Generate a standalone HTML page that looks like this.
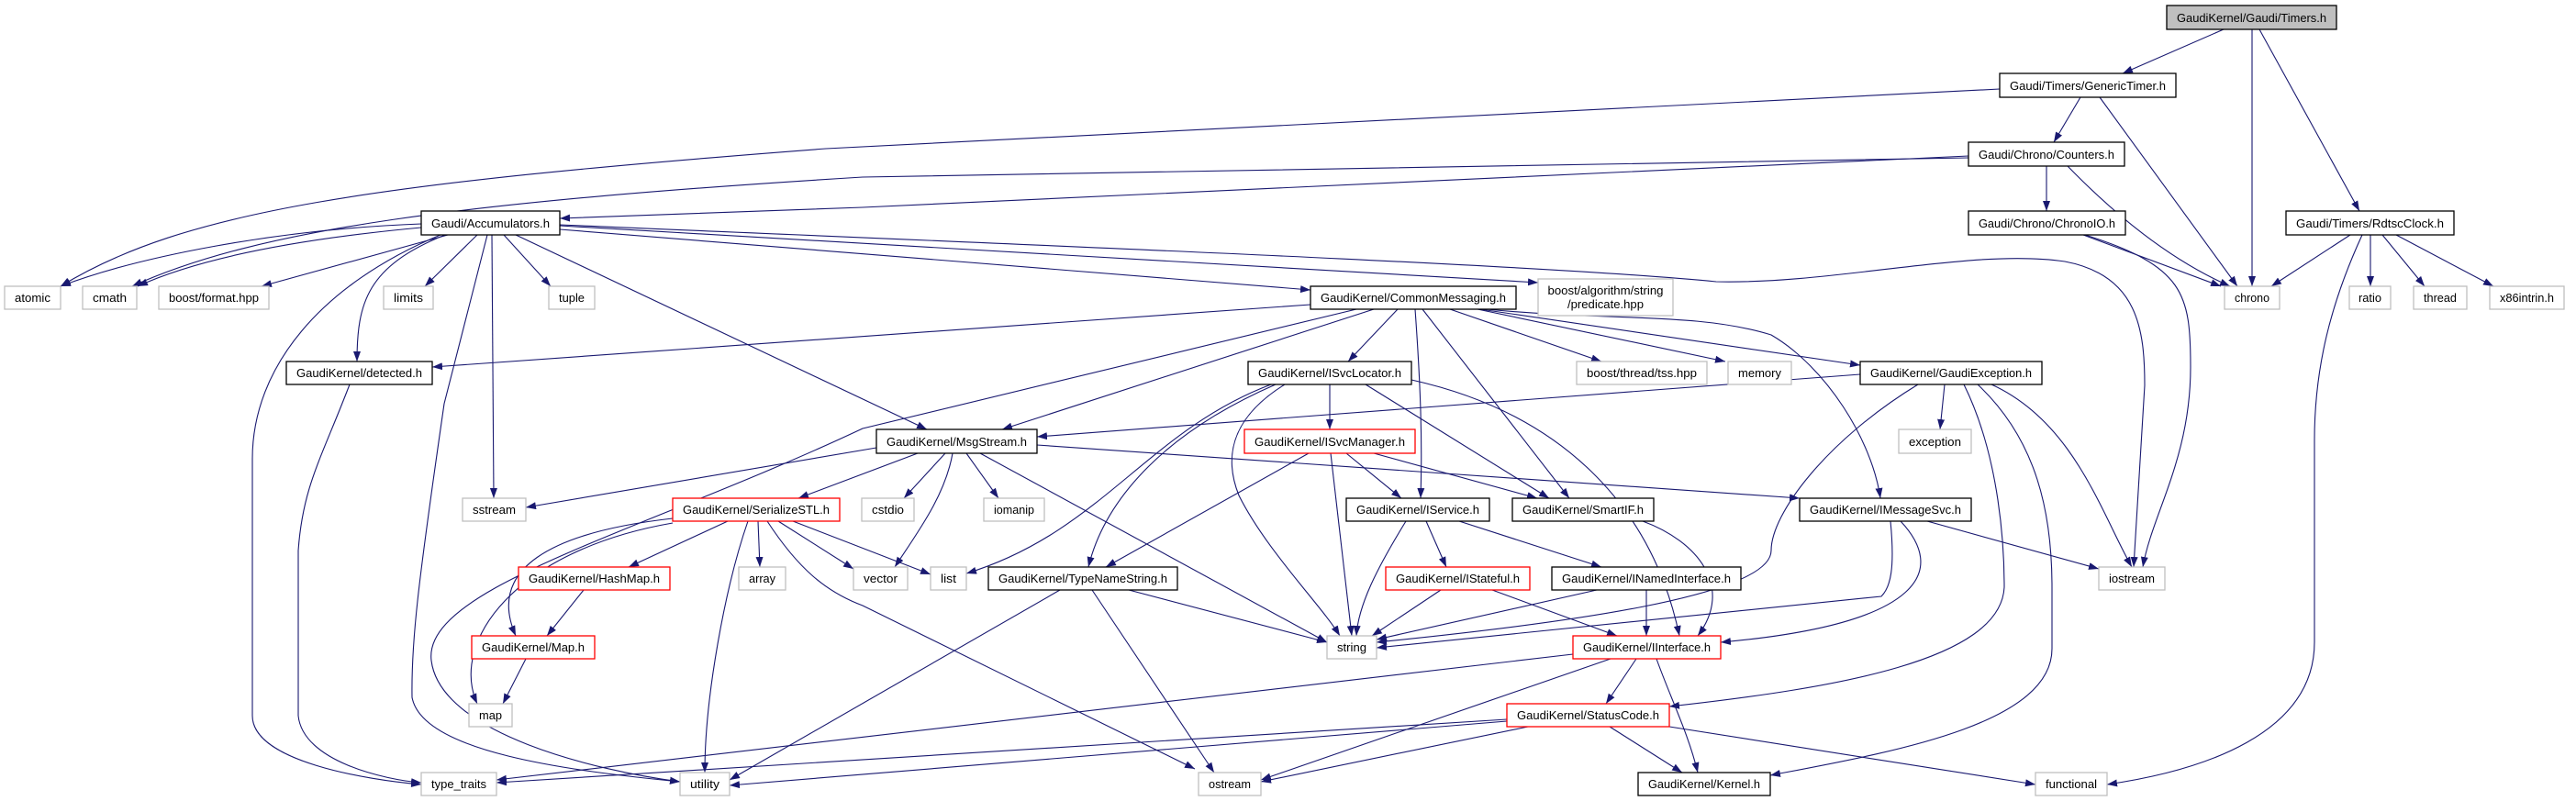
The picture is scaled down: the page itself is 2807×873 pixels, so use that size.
<!DOCTYPE html>
<html><head><meta charset="utf-8"><style>
html,body{margin:0;padding:0;background:#fff;}
svg{display:block;}
text{font-family:"Liberation Sans",sans-serif;font-size:13px;fill:#000;}
.b{fill:#fff;stroke:#000;stroke-width:1.3}
.g{fill:#fff;stroke:#bfbfbf;stroke-width:1.3}
.r{fill:#fff;stroke:#ff0000;stroke-width:1.3}
.e path{fill:none;stroke:#191970;stroke-width:1.1}
</style></head><body>
<svg width="2807" height="873" viewBox="0 0 2807 873" xmlns="http://www.w3.org/2000/svg">
<defs><marker id="a" markerUnits="userSpaceOnUse" markerWidth="12" markerHeight="9" refX="11" refY="4" orient="auto"><path d="M0,0 L11,4 L0,8 z" fill="#191970"/></marker></defs>
<g class="e" marker-end="url(#a)">
<path marker-end="url(#a)" d="M2423,32 L2313,80"/>
<path marker-end="url(#a)" d="M2454,32 L2454,312"/>
<path marker-end="url(#a)" d="M2462,32 L2571,230"/>
<path marker-end="url(#a)" d="M2267,106 L2238,155"/>
<path marker-end="url(#a)" d="M2288,106 L2438,312"/>
<path marker-end="url(#a)" d="M2179,97 L900,162 C400,200 200,230 66,312"/>
<path marker-end="url(#a)" d="M2230,181 L2230,230"/>
<path marker-end="url(#a)" d="M2253,181 C2320,250 2380,290 2430,312"/>
<path marker-end="url(#a)" d="M2145,170 L940,226 L610,238"/>
<path marker-end="url(#a)" d="M2145,172 L940,193 C500,220 280,250 144,312"/>
<path marker-end="url(#a)" d="M2270,256 L2420,312"/>
<path marker-end="url(#a)" d="M2272,256 C2380,290 2387,320 2387,400 C2387,500 2345,560 2335,618"/>
<path marker-end="url(#a)" d="M2561,256 L2475,312"/>
<path marker-end="url(#a)" d="M2583,256 L2583,312"/>
<path marker-end="url(#a)" d="M2596,256 L2642,312"/>
<path marker-end="url(#a)" d="M2611,256 L2717,312"/>
<path marker-end="url(#a)" d="M2574,256 C2540,330 2522,400 2522,480 L2522,700 C2522,800 2400,840 2296,855"/>
<path marker-end="url(#a)" d="M459,244 C300,250 150,280 66,312"/>
<path marker-end="url(#a)" d="M459,248 C330,260 220,280 150,312"/>
<path marker-end="url(#a)" d="M488,256 L285,312"/>
<path marker-end="url(#a)" d="M520,256 L463,312"/>
<path marker-end="url(#a)" d="M549,256 L600,312"/>
<path marker-end="url(#a)" d="M485,256 C400,290 389,330 389,394"/>
<path marker-end="url(#a)" d="M480,256 C350,310 275,400 275,500 L275,780 C275,830 400,850 459,855"/>
<path marker-end="url(#a)" d="M531,256 L484,440 C455,640 448,700 449,760 C460,820 620,840 741,852"/>
<path marker-end="url(#a)" d="M536,256 L538,543"/>
<path marker-end="url(#a)" d="M562,256 L1010,468"/>
<path marker-end="url(#a)" d="M610,250 L1428,316"/>
<path marker-end="url(#a)" d="M610,246 L1676,308"/>
<path marker-end="url(#a)" d="M610,245 C1200,270 1700,290 1870,307 C2000,310 2150,270 2250,285 C2330,300 2337,360 2337,420 L2325,618"/>
<path marker-end="url(#a)" d="M1478,337 L940,467 C700,580 460,640 470,720 C480,800 650,840 741,852"/>
<path marker-end="url(#a)" d="M1428,332 L471,400"/>
<path marker-end="url(#a)" d="M1497,337 L1092,468"/>
<path marker-end="url(#a)" d="M1523,337 L1469,394"/>
<path marker-end="url(#a)" d="M1542,337 C1548,420 1550,480 1548,543"/>
<path marker-end="url(#a)" d="M1550,337 L1710,543"/>
<path marker-end="url(#a)" d="M1580,337 L1745,394"/>
<path marker-end="url(#a)" d="M1610,337 L1880,394"/>
<path marker-end="url(#a)" d="M1613,337 L2027,398"/>
<path marker-end="url(#a)" d="M1620,337 C1750,350 1850,340 1930,365 C1990,400 2040,480 2049,543"/>
<path marker-end="url(#a)" d="M1449,419 L1449,468"/>
<path marker-end="url(#a)" d="M1488,419 L1688,543"/>
<path marker-end="url(#a)" d="M1385,419 C1250,470 1200,580 1053,625"/>
<path marker-end="url(#a)" d="M1390,419 C1250,480 1200,560 1186,618"/>
<path marker-end="url(#a)" d="M1400,419 C1350,450 1330,490 1350,540 C1380,600 1440,660 1460,693"/>
<path marker-end="url(#a)" d="M1538,414 C1700,450 1800,550 1830,693"/>
<path marker-end="url(#a)" d="M1467,494 L1527,543"/>
<path marker-end="url(#a)" d="M1497,494 L1675,543"/>
<path marker-end="url(#a)" d="M1426,494 L1205,618"/>
<path marker-end="url(#a)" d="M1450,494 L1473,693"/>
<path marker-end="url(#a)" d="M955,488 L573,553"/>
<path marker-end="url(#a)" d="M1000,494 L870,543"/>
<path marker-end="url(#a)" d="M1030,494 L985,543"/>
<path marker-end="url(#a)" d="M1053,494 L1088,543"/>
<path marker-end="url(#a)" d="M1038,494 C1030,540 1000,580 975,618"/>
<path marker-end="url(#a)" d="M1068,494 L1446,700"/>
<path marker-end="url(#a)" d="M1130,485 L1961,543"/>
<path marker-end="url(#a)" d="M2100,568 L2287,620"/>
<path marker-end="url(#a)" d="M2060,568 C2065,620 2060,640 2050,650 L1500,706"/>
<path marker-end="url(#a)" d="M2071,568 C2120,620 2100,680 1875,700"/>
<path marker-end="url(#a)" d="M2027,408 L1130,476"/>
<path marker-end="url(#a)" d="M2119,419 L2114,468"/>
<path marker-end="url(#a)" d="M2170,419 C2260,460 2290,560 2323,618"/>
<path marker-end="url(#a)" d="M2090,419 C1990,480 1930,560 1930,600 C1930,650 1700,680 1500,700"/>
<path marker-end="url(#a)" d="M2140,419 C2180,500 2184,600 2184,640 C2180,720 2000,750 1819,770"/>
<path marker-end="url(#a)" d="M2155,419 C2220,480 2236,560 2236,640 L2236,707 C2236,790 2060,820 1929,845"/>
<path marker-end="url(#a)" d="M793,568 L685,618"/>
<path marker-end="url(#a)" d="M733,565 C600,580 530,620 562,693"/>
<path marker-end="url(#a)" d="M733,570 C560,600 490,700 520,767"/>
<path marker-end="url(#a)" d="M826,568 L828,618"/>
<path marker-end="url(#a)" d="M848,568 L930,620"/>
<path marker-end="url(#a)" d="M864,568 L1014,626"/>
<path marker-end="url(#a)" d="M815,568 C790,640 768,760 768,842"/>
<path marker-end="url(#a)" d="M836,568 C870,620 900,645 940,660 L1302,838"/>
<path marker-end="url(#a)" d="M636,643 L596,693"/>
<path marker-end="url(#a)" d="M573,718 L548,767"/>
<path marker-end="url(#a)" d="M1532,568 C1500,620 1480,660 1478,693"/>
<path marker-end="url(#a)" d="M1554,568 L1576,618"/>
<path marker-end="url(#a)" d="M1590,568 L1745,618"/>
<path marker-end="url(#a)" d="M1790,568 C1850,590 1890,640 1850,693"/>
<path marker-end="url(#a)" d="M1230,643 L1446,700"/>
<path marker-end="url(#a)" d="M1155,643 L795,850"/>
<path marker-end="url(#a)" d="M1190,643 L1323,842"/>
<path marker-end="url(#a)" d="M1570,643 L1495,693"/>
<path marker-end="url(#a)" d="M1626,643 L1762,693"/>
<path marker-end="url(#a)" d="M1740,643 L1500,697"/>
<path marker-end="url(#a)" d="M1794,643 L1794,693"/>
<path marker-end="url(#a)" d="M1783,718 L1750,767"/>
<path marker-end="url(#a)" d="M1805,718 C1820,760 1840,800 1850,842"/>
<path marker-end="url(#a)" d="M1755,718 L1374,850"/>
<path marker-end="url(#a)" d="M1714,713 L541,850"/>
<path marker-end="url(#a)" d="M1754,792 L1833,842"/>
<path marker-end="url(#a)" d="M1665,792 L1374,852"/>
<path marker-end="url(#a)" d="M1642,786 L795,856"/>
<path marker-end="url(#a)" d="M1642,784 L541,853"/>
<path marker-end="url(#a)" d="M1819,792 L2218,855"/>
<path marker-end="url(#a)" d="M381,419 C350,500 330,530 325,600 L325,780 C330,830 420,850 459,853"/>
</g>
<g>
<rect x="2361" y="6" width="185" height="26" fill="#bfbfbf" stroke="#000" stroke-width="1.3"/><text x="2453.5" y="24" text-anchor="middle" textLength="163" lengthAdjust="spacingAndGlyphs">GaudiKernel/Gaudi/Timers.h</text>
<rect class="b" x="2179" y="80" width="192" height="26"/><text x="2275" y="98" text-anchor="middle" textLength="170" lengthAdjust="spacingAndGlyphs">Gaudi/Timers/GenericTimer.h</text>
<rect class="b" x="2145" y="155" width="170" height="26"/><text x="2230" y="173" text-anchor="middle" textLength="148" lengthAdjust="spacingAndGlyphs">Gaudi/Chrono/Counters.h</text>
<rect class="b" x="2145" y="230" width="171" height="26"/><text x="2230.5" y="248" text-anchor="middle" textLength="149" lengthAdjust="spacingAndGlyphs">Gaudi/Chrono/ChronoIO.h</text>
<rect class="b" x="2491" y="230" width="183" height="26"/><text x="2582.5" y="248" text-anchor="middle" textLength="161" lengthAdjust="spacingAndGlyphs">Gaudi/Timers/RdtscClock.h</text>
<rect class="b" x="459" y="230" width="151" height="26"/><text x="534.5" y="248" text-anchor="middle" textLength="129" lengthAdjust="spacingAndGlyphs">Gaudi/Accumulators.h</text>
<rect class="g" x="5" y="312" width="61" height="25"/><text x="35.5" y="329" text-anchor="middle" textLength="39" lengthAdjust="spacingAndGlyphs">atomic</text>
<rect class="g" x="90" y="312" width="59" height="25"/><text x="119.5" y="329" text-anchor="middle" textLength="37" lengthAdjust="spacingAndGlyphs">cmath</text>
<rect class="g" x="173" y="312" width="120" height="25"/><text x="233" y="329" text-anchor="middle" textLength="98" lengthAdjust="spacingAndGlyphs">boost/format.hpp</text>
<rect class="g" x="418" y="312" width="54" height="25"/><text x="445" y="329" text-anchor="middle" textLength="32" lengthAdjust="spacingAndGlyphs">limits</text>
<rect class="g" x="598" y="312" width="50" height="25"/><text x="623" y="329" text-anchor="middle" textLength="28" lengthAdjust="spacingAndGlyphs">tuple</text>
<rect class="b" x="1428" y="312" width="224" height="25"/><text x="1540" y="329" text-anchor="middle" textLength="202" lengthAdjust="spacingAndGlyphs">GaudiKernel/CommonMessaging.h</text>
<rect class="g" x="1676" y="304" width="147" height="40"/><text x="1749.5" y="321" text-anchor="middle" textLength="126" lengthAdjust="spacingAndGlyphs">boost/algorithm/string</text><text x="1749.5" y="336" text-anchor="middle" textLength="83" lengthAdjust="spacingAndGlyphs">/predicate.hpp</text>
<rect class="g" x="2424" y="312" width="60" height="25"/><text x="2454" y="329" text-anchor="middle" textLength="38" lengthAdjust="spacingAndGlyphs">chrono</text>
<rect class="g" x="2560" y="312" width="45" height="25"/><text x="2582.5" y="329" text-anchor="middle" textLength="25" lengthAdjust="spacingAndGlyphs">ratio</text>
<rect class="g" x="2630" y="312" width="58" height="25"/><text x="2659" y="329" text-anchor="middle" textLength="36" lengthAdjust="spacingAndGlyphs">thread</text>
<rect class="g" x="2713" y="312" width="81" height="25"/><text x="2753.5" y="329" text-anchor="middle" textLength="59" lengthAdjust="spacingAndGlyphs">x86intrin.h</text>
<rect class="b" x="312" y="394" width="159" height="25"/><text x="391.5" y="411" text-anchor="middle" textLength="137" lengthAdjust="spacingAndGlyphs">GaudiKernel/detected.h</text>
<rect class="b" x="1360" y="394" width="178" height="25"/><text x="1449" y="411" text-anchor="middle" textLength="156" lengthAdjust="spacingAndGlyphs">GaudiKernel/ISvcLocator.h</text>
<rect class="g" x="1718" y="394" width="142" height="25"/><text x="1789" y="411" text-anchor="middle" textLength="120" lengthAdjust="spacingAndGlyphs">boost/thread/tss.hpp</text>
<rect class="g" x="1883" y="394" width="69" height="25"/><text x="1917.5" y="411" text-anchor="middle" textLength="47" lengthAdjust="spacingAndGlyphs">memory</text>
<rect class="b" x="2027" y="394" width="198" height="25"/><text x="2126" y="411" text-anchor="middle" textLength="176" lengthAdjust="spacingAndGlyphs">GaudiKernel/GaudiException.h</text>
<rect class="b" x="955" y="468" width="175" height="26"/><text x="1042.5" y="486" text-anchor="middle" textLength="153" lengthAdjust="spacingAndGlyphs">GaudiKernel/MsgStream.h</text>
<rect class="r" x="1356" y="468" width="186" height="26"/><text x="1449" y="486" text-anchor="middle" textLength="164" lengthAdjust="spacingAndGlyphs">GaudiKernel/ISvcManager.h</text>
<rect class="g" x="2069" y="468" width="79" height="26"/><text x="2108.5" y="486" text-anchor="middle" textLength="57" lengthAdjust="spacingAndGlyphs">exception</text>
<rect class="g" x="504" y="543" width="69" height="25"/><text x="538.5" y="560" text-anchor="middle" textLength="47" lengthAdjust="spacingAndGlyphs">sstream</text>
<rect class="r" x="733" y="543" width="182" height="25"/><text x="824" y="560" text-anchor="middle" textLength="160" lengthAdjust="spacingAndGlyphs">GaudiKernel/SerializeSTL.h</text>
<rect class="g" x="939" y="543" width="57" height="25"/><text x="967.5" y="560" text-anchor="middle" textLength="35" lengthAdjust="spacingAndGlyphs">cstdio</text>
<rect class="g" x="1072" y="543" width="66" height="25"/><text x="1105" y="560" text-anchor="middle" textLength="44" lengthAdjust="spacingAndGlyphs">iomanip</text>
<rect class="b" x="1467" y="543" width="156" height="25"/><text x="1545" y="560" text-anchor="middle" textLength="134" lengthAdjust="spacingAndGlyphs">GaudiKernel/IService.h</text>
<rect class="b" x="1648" y="543" width="154" height="25"/><text x="1725" y="560" text-anchor="middle" textLength="132" lengthAdjust="spacingAndGlyphs">GaudiKernel/SmartIF.h</text>
<rect class="b" x="1961" y="543" width="187" height="25"/><text x="2054.5" y="560" text-anchor="middle" textLength="165" lengthAdjust="spacingAndGlyphs">GaudiKernel/IMessageSvc.h</text>
<rect class="r" x="565" y="618" width="165" height="25"/><text x="647.5" y="635" text-anchor="middle" textLength="143" lengthAdjust="spacingAndGlyphs">GaudiKernel/HashMap.h</text>
<rect class="g" x="805" y="618" width="51" height="25"/><text x="830.5" y="635" text-anchor="middle" textLength="29" lengthAdjust="spacingAndGlyphs">array</text>
<rect class="g" x="930" y="618" width="59" height="25"/><text x="959.5" y="635" text-anchor="middle" textLength="37" lengthAdjust="spacingAndGlyphs">vector</text>
<rect class="g" x="1014" y="618" width="39" height="25"/><text x="1033.5" y="635" text-anchor="middle" textLength="17" lengthAdjust="spacingAndGlyphs">list</text>
<rect class="b" x="1077" y="618" width="206" height="25"/><text x="1180" y="635" text-anchor="middle" textLength="184" lengthAdjust="spacingAndGlyphs">GaudiKernel/TypeNameString.h</text>
<rect class="r" x="1510" y="618" width="157" height="25"/><text x="1588.5" y="635" text-anchor="middle" textLength="135" lengthAdjust="spacingAndGlyphs">GaudiKernel/IStateful.h</text>
<rect class="b" x="1691" y="618" width="206" height="25"/><text x="1794" y="635" text-anchor="middle" textLength="184" lengthAdjust="spacingAndGlyphs">GaudiKernel/INamedInterface.h</text>
<rect class="g" x="2287" y="618" width="72" height="25"/><text x="2323" y="635" text-anchor="middle" textLength="50" lengthAdjust="spacingAndGlyphs">iostream</text>
<rect class="r" x="514" y="693" width="134" height="25"/><text x="581" y="710" text-anchor="middle" textLength="112" lengthAdjust="spacingAndGlyphs">GaudiKernel/Map.h</text>
<rect class="g" x="1446" y="693" width="54" height="25"/><text x="1473" y="710" text-anchor="middle" textLength="32" lengthAdjust="spacingAndGlyphs">string</text>
<rect class="r" x="1714" y="693" width="161" height="25"/><text x="1794.5" y="710" text-anchor="middle" textLength="139" lengthAdjust="spacingAndGlyphs">GaudiKernel/IInterface.h</text>
<rect class="g" x="511" y="767" width="47" height="25"/><text x="534.5" y="784" text-anchor="middle" textLength="25" lengthAdjust="spacingAndGlyphs">map</text>
<rect class="r" x="1642" y="767" width="177" height="25"/><text x="1730.5" y="784" text-anchor="middle" textLength="155" lengthAdjust="spacingAndGlyphs">GaudiKernel/StatusCode.h</text>
<rect class="g" x="459" y="842" width="82" height="25"/><text x="500" y="859" text-anchor="middle" textLength="60" lengthAdjust="spacingAndGlyphs">type_traits</text>
<rect class="g" x="741" y="842" width="54" height="25"/><text x="768" y="859" text-anchor="middle" textLength="32" lengthAdjust="spacingAndGlyphs">utility</text>
<rect class="g" x="1306" y="842" width="68" height="25"/><text x="1340" y="859" text-anchor="middle" textLength="46" lengthAdjust="spacingAndGlyphs">ostream</text>
<rect class="b" x="1785" y="842" width="144" height="25"/><text x="1857" y="859" text-anchor="middle" textLength="122" lengthAdjust="spacingAndGlyphs">GaudiKernel/Kernel.h</text>
<rect class="g" x="2218" y="842" width="78" height="25"/><text x="2257" y="859" text-anchor="middle" textLength="56" lengthAdjust="spacingAndGlyphs">functional</text>
</g>
</svg>
</body></html>
